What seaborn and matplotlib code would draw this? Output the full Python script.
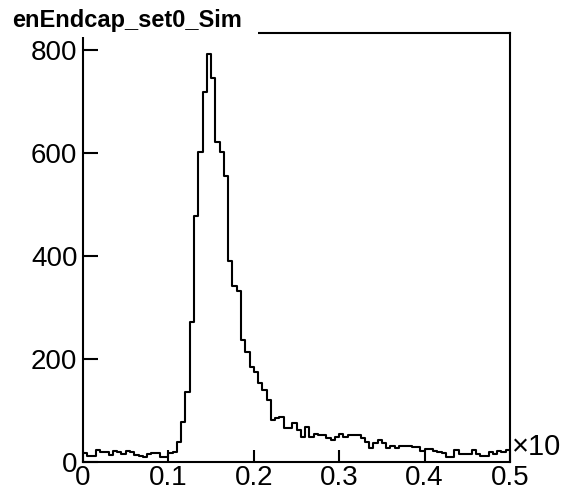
import numpy as np
import pandas as pd
import matplotlib
matplotlib.use("Agg")
import matplotlib.pyplot as plt
from matplotlib.patches import Rectangle
import seaborn as sns

title = "enEndcap_set0_Sim"
x_min, x_max, n_bins = 0.0, 0.5, 100
counts = [18, 12, 12, 24, 20, 20, 14, 22, 20, 16,
          22, 20, 14, 12, 10, 16, 18, 18, 10, 10,
          18, 20, 38, 78, 135, 272, 478, 602, 719, 792,
          746, 622, 602, 555, 391, 342, 333, 237, 213, 185,
          175, 153, 140, 120, 82, 85, 88, 66, 66, 75,
          62, 49, 68, 49, 54, 52, 52, 46, 43, 49,
          54, 48, 52, 52, 52, 47, 39, 27, 37, 43,
          37, 28, 31, 28, 31, 31, 31, 29, 29, 22,
          25, 25, 22, 20, 17, 10, 10, 24, 16, 16,
          16, 23, 16, 12, 12, 20, 16, 22, 20, 24]
y_ticks = [0, 200, 400, 600, 800]
x_ticks = [0, 0.1, 0.2, 0.3, 0.4, 0.5]
x_ticklabels = ["0", "0.1", "0.2", "0.3", "0.4", "0.5"]

width = (x_max - x_min) / n_bins
centers = x_min + width * (np.arange(n_bins) + 0.5)
df = pd.DataFrame({"x": centers, "w": counts})

sns.set_style("ticks")
plt.rcParams["font.family"] = ["Liberation Sans", "DejaVu Sans"]
plt.rcParams["text.color"] = "black"

fig = plt.figure(figsize=(5.64, 4.93), dpi=100)
ax = fig.add_axes([83 / 564, 31 / 493, 427 / 564, 429 / 493])

sns.histplot(data=df, x="x", weights="w", bins=n_bins, binrange=(x_min, x_max),
             element="step", fill=False, color="black", linewidth=1.5, ax=ax)

ax.set_xlim(x_min, x_max)
ax.set_ylim(0, 833)
ax.set_xlabel("")
ax.set_ylabel("")
ax.set_xticks(x_ticks)
ax.set_xticklabels(x_ticklabels)
ax.set_yticks(y_ticks)
ax.tick_params(axis="both", direction="in", labelsize=20, width=1.5,
               colors="black", labelcolor="black")
ax.tick_params(axis="y", length=11, pad=4)
ax.tick_params(axis="x", length=9, pad=2)
for s in ax.spines.values():
    s.set_visible(True)
    s.set_linewidth(1.5)
    s.set_color("black")

fig.text(512 / 564, (493 - 461) / 493, "×10", fontsize=21, color="black",
         ha="left", va="bottom")

fig.patches.append(Rectangle((0, (493 - 37) / 493), 258 / 564, 37 / 493,
                             transform=fig.transFigure, facecolor="white",
                             edgecolor="none", zorder=5))
fig.text(12 / 564, (493 - 27) / 493, title, fontsize=17, fontweight="bold",
         color="black", ha="left", va="baseline", zorder=6)

fig.savefig("out.png", dpi=100)
